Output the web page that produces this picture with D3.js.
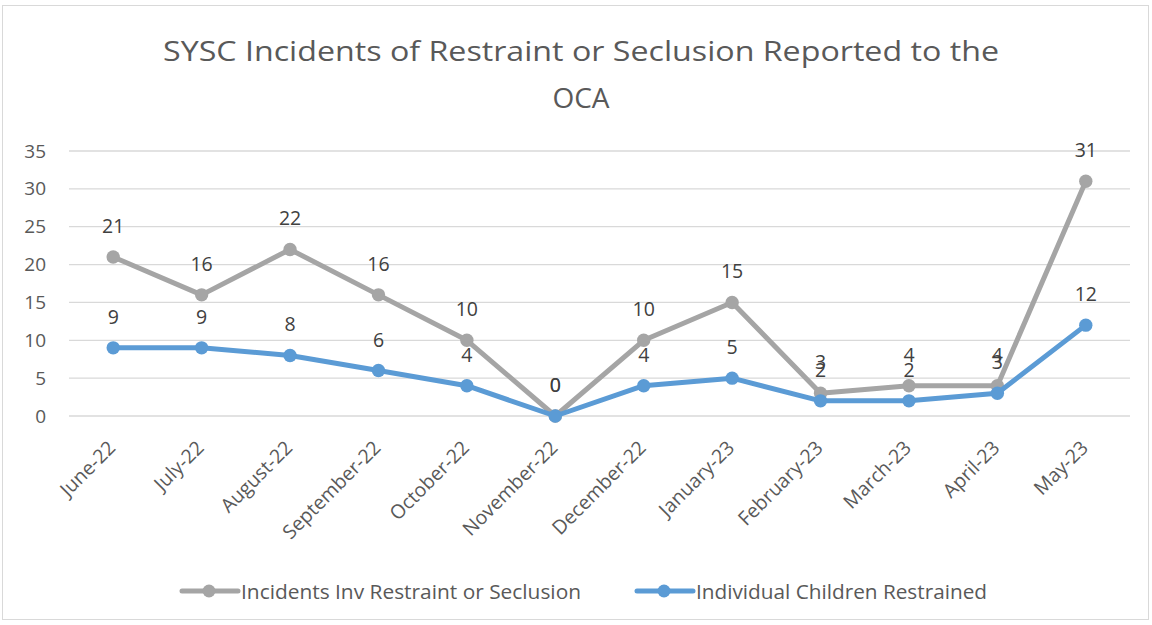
<!DOCTYPE html>
<html>
<head>
<meta charset="utf-8">
<script src="https://cdn.jsdelivr.net/npm/d3@7"></script>
<style>
  body { margin: 0; background: #fff; }
  text { font-family: "Open Sans", "Noto Sans", sans-serif; }
</style>
</head>
<body>
<div id="chart"></div>
<script>
// data
const months = ["June-22", "July-22", "August-22", "September-22", "October-22", "November-22",
  "December-22", "January-23", "February-23", "March-23", "April-23", "May-23"];
const incidents = [21, 16, 22, 16, 10, 0, 10, 15, 3, 4, 4, 31];
const children = [9, 9, 8, 6, 4, 0, 4, 5, 2, 2, 3, 12];
const yTicks = [0, 5, 10, 15, 20, 25, 30, 35];
const seriesNames = ["Incidents Inv Restraint or Seclusion", "Individual Children Restrained"];
const colors = ["#A5A5A5", "#5B9BD5"];

const svgWidth = 1152;
const svgHeight = 625;

const svg = d3.select("#chart")
  .append("svg")
  .attr("width", svgWidth)
  .attr("height", svgHeight);

// chart border
svg.append("rect")
  .attr("x", 2.5).attr("y", 5.5)
  .attr("width", 1146).attr("height", 614)
  .attr("fill", "#fff")
  .attr("stroke", "#D9D9D9");

// title
const title = svg.append("text")
  .attr("text-anchor", "middle")
  .attr("fill", "#595959")
  .style("font-size", "28px");
title.append("tspan").attr("x", 581).attr("y", 61)
  .attr("textLength", 836).attr("lengthAdjust", "spacingAndGlyphs")
  .text("SYSC Incidents of Restraint or Seclusion Reported to the");
title.append("tspan").attr("x", 581).attr("y", 108).text("OCA");

// scales
const x = d3.scalePoint()
  .domain(months)
  .range([69, 1130])
  .padding(0.5);

const y = d3.scaleLinear()
  .domain([0, 35])
  .range([416, 151]);

// gridlines
svg.append("g")
  .selectAll("line")
  .data(yTicks)
  .enter()
  .append("line")
  .attr("x1", 69).attr("x2", 1130)
  .attr("y1", d => y(d)).attr("y2", d => y(d))
  .attr("stroke", "#D9D9D9")
  .attr("stroke-width", 1.3);

// y axis labels
const leftAxis = d3.axisLeft(y).tickValues(yTicks).tickSize(0).tickPadding(0);
const yAxis = svg.append("g")
  .attr("transform", "translate(46,0)")
  .call(leftAxis);
yAxis.select(".domain").remove();
yAxis.selectAll("text")
  .attr("fill", "#595959")
  .style("font-size", "19px")
  .style("font-family", "'Open Sans', sans-serif");

// x axis labels
const bottomAxis = d3.axisBottom(x).tickSize(0).tickPadding(0);
const xAxis = svg.append("g")
  .attr("transform", "translate(0,416)")
  .call(bottomAxis);
xAxis.select(".domain").remove();
xAxis.selectAll("text")
  .attr("fill", "#595959")
  .style("font-size", "19.5px")
  .style("font-family", "'Open Sans', sans-serif")
  .attr("text-anchor", "end")
  .attr("dy", "0")
  .attr("transform", "translate(3,33) rotate(-45)");

// lines
const line = d3.line()
  .x((d, i) => x(months[i]))
  .y(d => y(d));

[incidents, children].forEach((series, s) => {
  svg.append("path")
    .datum(series)
    .attr("d", line)
    .attr("fill", "none")
    .attr("stroke", colors[s])
    .attr("stroke-width", 5)
    .attr("stroke-linejoin", "round");

  svg.append("g")
    .selectAll("circle")
    .data(series)
    .enter()
    .append("circle")
    .attr("cx", (d, i) => x(months[i]))
    .attr("cy", d => y(d))
    .attr("r", 6.7)
    .attr("fill", colors[s]);
});

// data labels
[incidents, children].forEach(series => {
  svg.append("g")
    .selectAll("text")
    .data(series)
    .enter()
    .append("text")
    .attr("x", (d, i) => x(months[i]))
    .attr("y", d => y(d) - 24)
    .attr("text-anchor", "middle")
    .attr("fill", "#404040")
    .style("font-size", "19.5px")
    .text(d => d);
});

// legend
const legendX = [182, 637];
const legendTextW = [340, 291];
const legend = svg.append("g")
  .selectAll("g")
  .data(seriesNames)
  .enter()
  .append("g")
  .attr("transform", (d, i) => `translate(${legendX[i]},591)`);

legend.append("line")
  .attr("x1", 0).attr("x2", 56)
  .attr("stroke", (d, i) => colors[i])
  .attr("stroke-width", 5)
  .attr("stroke-linecap", "round");
legend.append("circle")
  .attr("cx", 27)
  .attr("r", 6.5)
  .attr("fill", (d, i) => colors[i]);
legend.append("text")
  .attr("x", 59)
  .attr("y", 7.5)
  .attr("fill", "#595959")
  .style("font-size", "20px")
  .attr("textLength", (d, i) => legendTextW[i])
  .attr("lengthAdjust", "spacingAndGlyphs")
  .text(d => d);
</script>
</body>
</html>
